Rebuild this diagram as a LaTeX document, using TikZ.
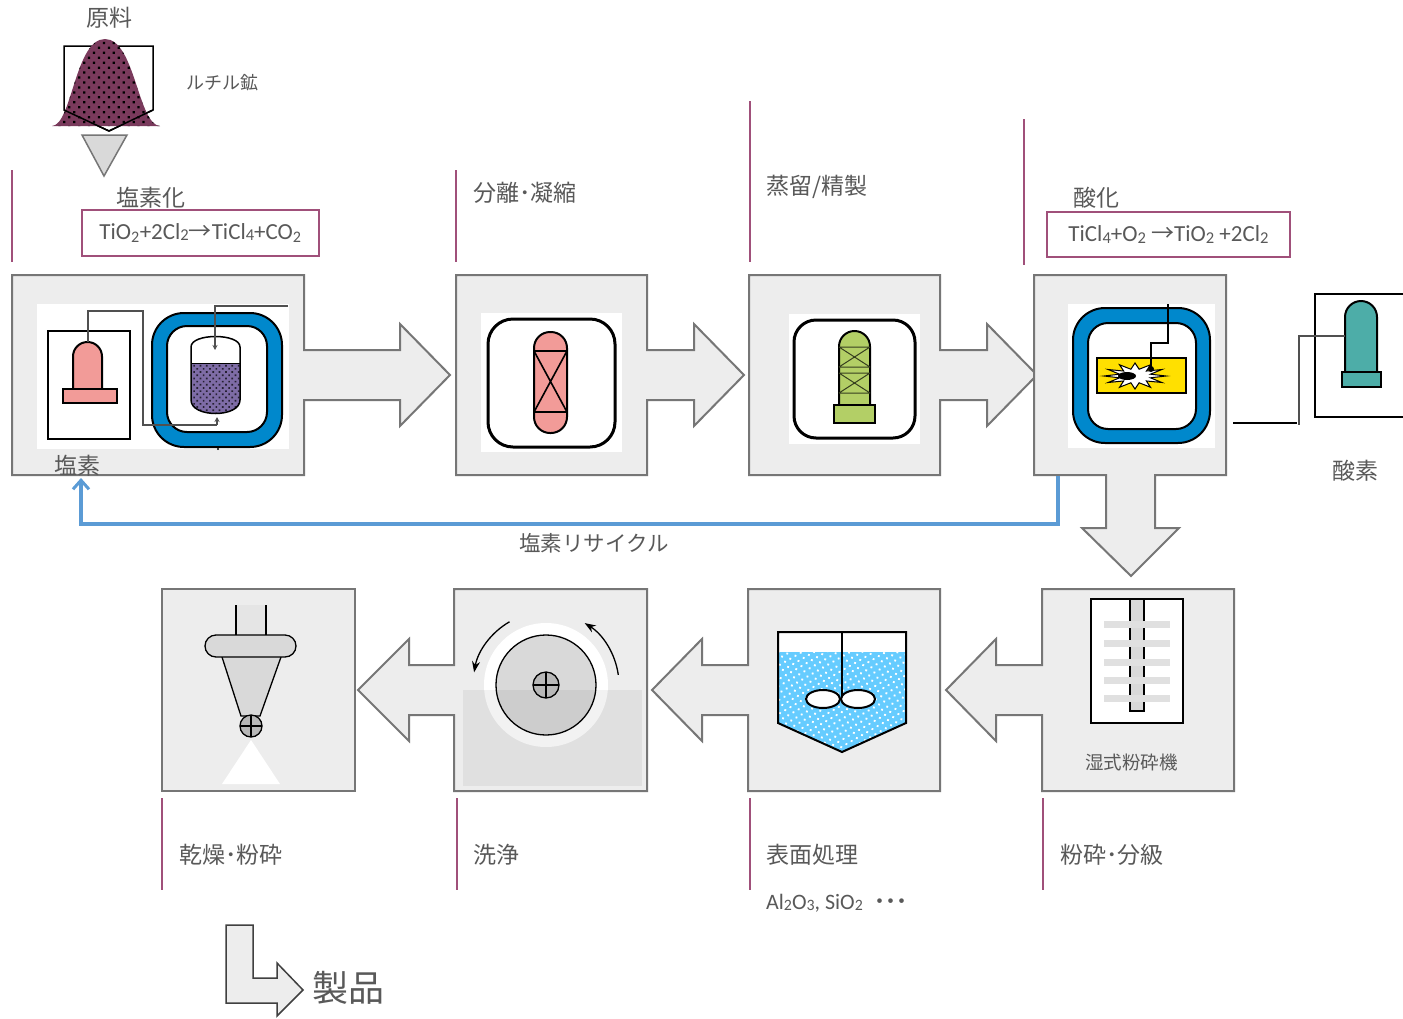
\documentclass[tikz,border=0pt]{standalone}
\usepackage{fontspec}
\usepackage{graphicx}
\setmainfont{Carlito}
\newfontfamily\jp{Noto Sans CJK JP}
\usetikzlibrary{arrows.meta,patterns.meta}

\definecolor{txtgray}{HTML}{595959}
\definecolor{boxfill}{HTML}{EDEDED}
\definecolor{boxline}{HTML}{767676}
\definecolor{plum}{HTML}{A0507A}
\definecolor{ringblue}{HTML}{0088CC}
\definecolor{recycleblue}{HTML}{5B9BD5}
\definecolor{salmon}{HTML}{F29B98}
\definecolor{lime}{HTML}{B3CF66}
\definecolor{tealgas}{HTML}{4DADA8}
\definecolor{ore}{HTML}{7A3A5C}
\definecolor{granule}{HTML}{7E6CA6}
\definecolor{liquid}{HTML}{66CCFF}
\definecolor{gold}{HTML}{FFE000}
\definecolor{pipe}{HTML}{505050}

% chemical digits: true subscript and small inline digit
\newcommand{\lowsub}[1]{\textsubscript{#1}}
\newcommand{\smalldigit}[1]{\raisebox{-0.15ex}{\scalebox{0.72}{#1}}}

\tikzset{
  procbox/.style={draw=boxline, fill=boxfill, line width=2pt, line join=miter},
  stageline/.style={draw=plum, line width=2.5pt},
  lbl/.style={text=txtgray, inner sep=0pt, anchor=west, font=\jp\fontsize{23}{27}\selectfont},
  smalllbl/.style={lbl, font=\jp\fontsize{18.5}{22}\selectfont},
  formula/.style={draw=plum, line width=1.5pt, inner sep=0pt, text=txtgray,
                  font=\fontsize{23}{27}\selectfont},
  outline/.style={draw=black, line width=2pt},
  pipeline/.style={draw=pipe, line width=1.3pt},
  recyclepath/.style={draw=recycleblue, line width=4pt,
                      -{Straight Barb[length=9pt,width=16pt,line width=3pt]}},
  spin/.style={draw=black, line width=1.3pt, -{Stealth[length=11pt,width=8pt]}},
}

\begin{document}
\begin{tikzpicture}[x=1pt, y=-1pt]
\useasboundingbox (0,0) rectangle (1403,1018);
\fill[white] (0,0) rectangle (1403,1018);

% ---------- raw material hopper ----------
\draw[black, line width=1.5pt] (64,46) -- (153,46) -- (153,110) -- (109,131) -- (64,110) -- cycle;
\fill[ore] (52,126) .. controls (72,125) and (75,39) .. (105,39)
      .. controls (135,39) and (138,125) .. (160,126) -- cycle;
\fill[pattern={Dots[radius=1.6pt,distance=7pt,angle=45]}, pattern color=black]
      (52,126) .. controls (72,125) and (75,39) .. (105,39)
      .. controls (135,39) and (138,125) .. (160,126) -- cycle;
\draw[black, line width=1.5pt] (64,110) -- (109,131) -- (153,110);
\draw[fill=black!15, draw=boxline, line width=1.5pt] (82,135) -- (127,135) -- (104,176) -- cycle;

\node[lbl] (rawlbl) at (86,18) {原料};
\node[lbl, font=\jp\fontsize{18}{22}\selectfont] (rutile) at (186,83) {ルチル鉱};

% ---------- stage separators ----------
\draw[stageline] (12,170) -- (12,262);
\draw[stageline] (456,170) -- (456,262);
\draw[stageline] (750,101) -- (750,262);
\draw[stageline] (1024,119) -- (1024,265);
\draw[stageline] (162,798) -- (162,890);
\draw[stageline] (457,798) -- (457,890);
\draw[stageline] (750,798) -- (750,890);
\draw[stageline] (1043,798) -- (1043,890);

% ---------- process boxes with their block arrows ----------
\path[procbox] (12,275) -- (304,275) -- (304,350) -- (400,350) -- (400,324) -- (450,375)
   -- (400,426) -- (400,400) -- (304,400) -- (304,475) -- (12,475) -- cycle;
\path[procbox] (456,275) -- (647,275) -- (647,350) -- (694,350) -- (694,324) -- (744,375)
   -- (694,426) -- (694,400) -- (647,400) -- (647,475) -- (456,475) -- cycle;
\path[procbox] (749,275) -- (940,275) -- (940,350) -- (987,350) -- (987,324) -- (1037,375)
   -- (987,426) -- (987,400) -- (940,400) -- (940,475) -- (749,475) -- cycle;
\path[procbox] (1034,275) -- (1226,275) -- (1226,475) -- (1155,475) -- (1155,528) -- (1179,528)
   -- (1131,576) -- (1082,528) -- (1106,528) -- (1106,475) -- (1034,475) -- cycle;
\path[procbox] (1234,589) -- (1234,791) -- (1042,791) -- (1042,715) -- (996,715) -- (996,741)
   -- (946,690) -- (996,639) -- (996,665) -- (1042,665) -- (1042,589) -- cycle;
\path[procbox] (940,589) -- (940,791) -- (748,791) -- (748,715) -- (702,715) -- (702,741)
   -- (652,690) -- (702,639) -- (702,665) -- (748,665) -- (748,589) -- cycle;
\path[procbox] (647,589) -- (647,791) -- (454,791) -- (454,715) -- (409,715) -- (409,741)
   -- (358,690) -- (409,639) -- (409,665) -- (454,665) -- (454,589) -- cycle;
\path[procbox] (162,589) rectangle (355,791);

% ---------- chlorination: chlorine cylinder and fluidised reactor ----------
\fill[white] (37,304) rectangle (289,449);
\draw[outline, line width=2.5pt] (48,331) rectangle (130,439);
\draw[outline, fill=salmon] (73,389) -- (73,356.5) arc[start angle=180, end angle=360, radius=14.5]
   -- (102,389) -- cycle;
\draw[outline, fill=salmon] (63,389) rectangle (117,403);
\draw[outline, fill=ringblue, rounded corners=32pt] (152,313) rectangle (282,447);
\draw[outline, fill=white, rounded corners=20pt] (167,326) rectangle (267,432);
\fill[granule] (191,363) -- (240,363) -- (240,400) .. controls (240,418) and (191,418) .. (191,400) -- cycle;
\fill[pattern={Dots[radius=1.2pt,distance=4.5pt,angle=45]}, pattern color=black!70!granule]
   (191,363) -- (240,363) -- (240,400) .. controls (240,418) and (191,418) .. (191,400) -- cycle;
\draw[black, line width=1.5pt] (191,347) .. controls (191,333) and (240,333) .. (240,347)
   -- (240,400) .. controls (240,418) and (191,418) .. (191,400) -- cycle;
\draw[black, line width=1pt] (191,363) -- (240,363);
\draw[pipeline] (88,342) -- (88,311) -- (143,311) -- (143,425) -- (217,425);
\draw[pipeline, -{Stealth[length=5pt,width=5pt]}] (217,425) -- (217,417);
\draw[pipeline, -{Stealth[length=5pt,width=5pt]}] (288,306) -- (215,306) -- (215,350);
\fill[black] (218,449) circle[radius=1.2];

% ---------- separation / condensation ----------
\fill[white] (481,313) rectangle (622,452);
\draw[outline, line width=3pt, rounded corners=25pt] (488,319) rectangle (615,447);
\draw[outline, fill=salmon, rounded corners=16pt] (534,332) rectangle (567,433);
\draw[black, line width=1.6pt] (534,351) -- (567,351) (534,412) -- (567,412)
   (534,351) -- (567,412) (567,351) -- (534,412);

% ---------- distillation column ----------
\fill[white] (789,314) rectangle (920,444);
\draw[outline, line width=3pt, rounded corners=22pt] (794,320) rectangle (915,438);
\draw[outline, fill=lime] (839,405) -- (839,346.5) arc[start angle=180, end angle=360, radius=15.5]
   -- (870,405) -- cycle;
\draw[outline, fill=lime] (834,405) rectangle (875,423);
\draw[black!70!lime, line width=1pt] (839,347) -- (870,347) (839,367) -- (870,367)
   (839,373) -- (870,373) (839,393) -- (870,393)
   (839,347) -- (870,367) (870,347) -- (839,367)
   (839,373) -- (870,393) (870,373) -- (839,393);

% ---------- oxidation burner ----------
\fill[white] (1068,304) rectangle (1215,448);
\draw[outline, fill=ringblue, rounded corners=32pt] (1073,308) rectangle (1210,443);
\draw[outline, fill=white, rounded corners=20pt] (1088,323) rectangle (1196,429);
\draw[outline, fill=gold] (1097,358) rectangle (1186,393);
\draw[black, line width=1pt, fill=white]
   plot[samples=25, domain=0:24, variable=\k]
   ({1135 + (31 - 15*mod(\k,2))*cos(15*\k)}, {376 + (13 - 6*mod(\k,2))*sin(15*\k)}) -- cycle;
\fill[black] (1127,376) ellipse[x radius=9, y radius=4];
\draw[pipeline, black] (1168,304) -- (1168,343) -- (1151,343) -- (1151,368);
\fill[black] (1151,369) circle[radius=3];

% ---------- oxygen cylinder ----------
\draw[outline, line width=2.5pt] (1403,294) -- (1315,294) -- (1315,417) -- (1403,417);
\draw[outline, fill=tealgas] (1345,372) -- (1345,317) arc[start angle=180, end angle=360, radius=16]
   -- (1377,372) -- cycle;
\draw[outline, fill=tealgas] (1342,372) rectangle (1381,387);
\draw[pipeline] (1345,336) -- (1299,336) -- (1299,425);
\draw[black, line width=2.5pt] (1233,423) -- (1297,423);

% ---------- wet mill ----------
\draw[outline, fill=white] (1091,599) rectangle (1183,723);
\draw[black, line width=1.2pt, fill=black!15] (1130,599) rectangle (1144,711);
\foreach \yy in {624,643,662,680,698}
  \fill[black!12] (1104,\yy-3.5) rectangle (1170,\yy+3.5);

% ---------- surface treatment tank ----------
\fill[white] (778,632) -- (778,723) -- (842,752) -- (906,723) -- (906,632) -- cycle;
\fill[liquid] (778,652) -- (778,723) -- (842,752) -- (906,723) -- (906,652) -- cycle;
\fill[pattern={Dots[radius=1.3pt,distance=6pt,angle=30]}, pattern color=white]
   (778,652) -- (778,723) -- (842,752) -- (906,723) -- (906,652) -- cycle;
\draw[outline] (778,632) -- (778,723) -- (842,752) -- (906,723) -- (906,632) -- cycle;
\draw[black, line width=2pt] (842,632) -- (842,699);
\draw[outline, fill=white] (823,699) ellipse[x radius=17, y radius=9];
\draw[outline, fill=white] (858,699) ellipse[x radius=17, y radius=9];

% ---------- washing drum ----------
\fill[white] (546,685) circle[radius=62];
\draw[black, line width=1.3pt, fill=black!15] (546,685) circle[radius=50];
\fill[black, opacity=0.05] (463,690) rectangle (642,786);
\draw[black, line width=1.3pt, fill=black!28] (546,685) circle[radius=13];
\draw[black, line width=1.3pt] (533,685) -- (559,685) (546,672) -- (546,698);
\draw[spin] (546,685) ++(-120:73) arc[start angle=-120, end angle=-170, radius=73];
\draw[spin] (546,685) ++(-8:73) arc[start angle=-8, end angle=-58, radius=73];

% ---------- dryer ----------
\fill[black!10] (236,605) rectangle (266,635);
\draw[black, line width=1.3pt] (236,605) -- (236,635) (266,605) -- (266,635);
\draw[black, line width=1.3pt, fill=black!15] (222,657) -- (241,716) -- (260,716) -- (281,657);
\draw[black, line width=1.3pt, fill=black!15, rounded corners=11pt] (205,635) rectangle (296,657);
\draw[black, line width=1.3pt, fill=black!28] (251,726) circle[radius=11];
\draw[black, line width=1.3pt] (240,726) -- (262,726) (251,715) -- (251,737);
\fill[white] (251,740) -- (222,784) -- (280,784) -- cycle;

% ---------- product arrow ----------
\draw[draw=black!75, fill=boxfill, line width=1.5pt]
   (226,925) -- (253,925) -- (253,978) -- (277,978) -- (277,963) -- (303,990)
   -- (277,1016) -- (277,1003) -- (226,1003) -- cycle;
\node[lbl, font=\jp\fontsize{36}{40}\selectfont] (product) at (312,988) {製品};

% ---------- chlorine recycle ----------
\coordinate (recycleOut) at (1058,476);
\coordinate (recycleIn) at (81,478);
\draw[recyclepath] (recycleOut) |- (81,524) -- (recycleIn);
\node[lbl, font=\jp\fontsize{21.5}{25}\selectfont] (recyclelbl) at (519,543) {塩素リサイクル};

% ---------- stage labels ----------
\node[lbl] (chlorlbl) at (116,198) {塩素化};
\node[formula, minimum width=237pt, minimum height=46pt] (eq1) at (200.5,233)
  {TiO\lowsub{2}+2Cl\smalldigit{2}{\jp →}TiCl\smalldigit{4}+CO\lowsub{2}};
\node[lbl] (seplbl) at (473,193) {分離･凝縮};
\node[lbl] (distlbl) at (766,187) {蒸留/精製};
\node[lbl] (oxlbl) at (1073,198) {酸化};
\node[formula, minimum width=243pt, minimum height=45pt] (eq2) at (1168.5,234.5)
  {TiCl\smalldigit{4}+O\smalldigit{2} {\jp →}TiO\smalldigit{2} +2Cl\smalldigit{2}};
\node[lbl] (cl2lbl) at (54,466) {塩素};
\node[lbl] (o2lbl) at (1332,471) {酸素};
\node[smalllbl] (milllbl) at (1085,762) {湿式粉砕機};

\node[lbl] (drylbl) at (179,855) {乾燥･粉砕};
\node[lbl] (washlbl) at (473,855) {洗浄};
\node[lbl] (surflbl) at (766,855) {表面処理};
\node[lbl] (grindlbl) at (1060,855) {粉砕･分級};
\node[text=txtgray, inner sep=0pt, anchor=west, font=\fontsize{22}{26}\selectfont] (coatlbl) at (766,903)
  {Al\smalldigit{2}O\smalldigit{3}, SiO\smalldigit{2}\hspace{12pt}{\jp\bfseries ･･･}};
\end{tikzpicture}
\end{document}
